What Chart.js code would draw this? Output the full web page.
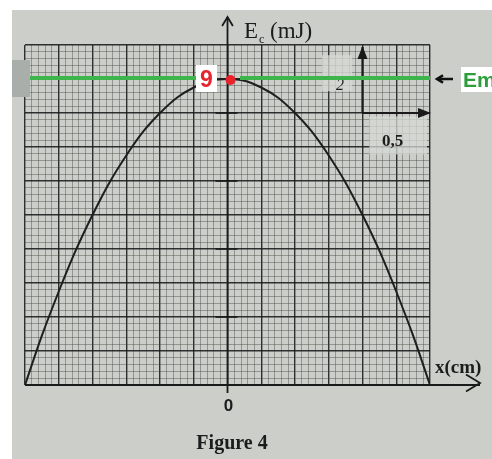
<!DOCTYPE html>
<html>
<head>
<meta charset="utf-8">
<script src="https://cdn.jsdelivr.net/npm/chart.js@4.4.0/dist/chart.umd.min.js"></script>
<style>
  html, body { margin: 0; padding: 0; background: #ffffff; }
  #wrap { width: 492px; height: 459px; }
</style>
</head>
<body>
<div id="wrap"><canvas id="chart" width="492" height="459"></canvas></div>
<script>
// valeurs : x (cm) et Ec (mJ)
const xValues = [-1.5, -1.375, -1.25, -1.125, -1, -0.875, -0.75, -0.625, -0.5, -0.375, -0.25, -0.125, 0,
                 0.125, 0.25, 0.375, 0.5, 0.625, 0.75, 0.875, 1, 1.125, 1.25, 1.375, 1.5];
const ecValues = [0, 1.45, 2.75, 3.95, 5, 5.95, 6.75, 7.45, 8, 8.45, 8.75, 8.95, 9,
                  8.95, 8.75, 8.45, 8, 7.45, 6.75, 5.95, 5, 3.95, 2.75, 1.45, 0];
const xTickLabels = ['0'];
const emValue = 9;          // valeur de Em lue (mJ)
const yMarks = [2, 4, 6, 8]; // petits traits sur l'axe Ec
const scaleY = '2';          // échelle : 2 mJ
const scaleX = '0,5';        // échelle : 0,5 cm

const points = xValues.map((x, i) => ({ x: x, y: ecValues[i] }));

function isMajor(v, step) {
    const r = v / step;
    return Math.abs(r - Math.round(r)) < 1e-6;
}

function arrowHead(c, x, y, dir, size) {
    // chevron ouvert
    c.beginPath();
    if (dir === 'up') {
        c.moveTo(x - size * 0.6, y + size);
        c.lineTo(x, y);
        c.lineTo(x + size * 0.6, y + size);
    } else if (dir === 'right') {
        c.moveTo(x - size, y - size * 0.6);
        c.lineTo(x, y);
        c.lineTo(x - size, y + size * 0.6);
    } else {
        c.moveTo(x + size, y - size * 0.6);
        c.lineTo(x, y);
        c.lineTo(x + size, y + size * 0.6);
    }
    c.stroke();
}

// fond (photo de la feuille)
const fondPlugin = {
    id: 'fond',
    beforeDraw(chart) {
        const c = chart.ctx;
        c.save();
        c.fillStyle = '#ffffff';
        c.fillRect(0, 0, chart.width, chart.height);
        c.fillStyle = '#cbcec9';
        c.fillRect(12, 10, chart.width - 12, chart.height - 10);
        c.restore();
    }
};

// axes, textes et annotations
const annotPlugin = {
    id: 'annot',
    afterDraw(chart) {
        const c = chart.ctx;
        const xs = chart.scales.x, ys = chart.scales.y;
        const area = chart.chartArea;
        const x0 = xs.getPixelForValue(0);
        c.save();

        // cases de l'échelle (fond plus clair)
        c.fillStyle = 'rgba(214,217,212,0.75)';
        c.fillRect(xs.getPixelForValue(1.05), ys.getPixelForValue(7.9), area.right - xs.getPixelForValue(1.05) - 3, 38);
        c.fillRect(xs.getPixelForValue(0.7), ys.getPixelForValue(9.7), 30, 36);

        // axe Ec
        c.strokeStyle = '#1a1a1a';
        c.lineWidth = 1.8;
        c.beginPath();
        c.moveTo(x0, area.bottom + 8);
        c.lineTo(x0, 17);
        c.stroke();
        arrowHead(c, x0, 17, 'up', 9);

        // axe x
        c.beginPath();
        c.moveTo(area.left, area.bottom);
        c.lineTo(480, area.bottom);
        c.stroke();
        arrowHead(c, 480, area.bottom - 2, 'right', 14);

        // petits traits sur l'axe
        c.lineWidth = 1.6;
        yMarks.forEach(v => {
            const y = ys.getPixelForValue(v);
            c.beginPath();
            c.moveTo(x0 - 12, y);
            c.lineTo(x0 + 10, y);
            c.stroke();
        });

        // flèches d'échelle
        const sx = xs.getPixelForValue(1), sy = ys.getPixelForValue(8);
        c.lineWidth = 2.2;
        c.beginPath();
        c.moveTo(sx, sy);
        c.lineTo(sx, ys.getPixelForValue(10) + 2);
        c.stroke();
        c.fillStyle = '#1a1a1a';
        c.beginPath();
        c.moveTo(sx, ys.getPixelForValue(10) + 1);
        c.lineTo(sx - 5, ys.getPixelForValue(10) + 14);
        c.lineTo(sx + 5, ys.getPixelForValue(10) + 14);
        c.fill();
        c.beginPath();
        c.moveTo(sx, sy);
        c.lineTo(area.right, sy);
        c.stroke();
        c.beginPath();
        c.moveTo(area.right + 1, sy);
        c.lineTo(area.right - 12, sy - 5);
        c.lineTo(area.right - 12, sy + 5);
        c.fill();

        // textes
        c.fillStyle = '#1c1c1c';
        c.textBaseline = 'alphabetic';
        c.font = '23px "Liberation Serif", serif';
        c.textAlign = 'left';
        c.fillText('E', 244, 38);
        c.font = '12px "Liberation Serif", serif';
        c.fillText('c', 259, 43);
        c.font = '23px "Liberation Serif", serif';
        c.fillText('(mJ)', 270, 38);

        c.font = 'bold 19px "Liberation Serif", serif';
        c.fillText('x(cm)', 435, 373);

        c.font = 'italic 16px "Liberation Serif", serif';
        c.fillText(scaleY, 336, 90);
        c.font = 'bold 17px "Liberation Serif", serif';
        c.fillText(scaleX, 382, 146);

        c.textAlign = 'center';
        c.font = 'bold 17px "Liberation Sans", sans-serif';
        xTickLabels.forEach(t => c.fillText(t, xs.getPixelForValue(Number(t)) + 1, 411));
        c.font = 'bold 20px "Liberation Serif", serif';
        c.fillText('Figure 4', 232, 449);

        // bande grise à gauche
        c.fillStyle = '#a9aeab';
        c.fillRect(12, 60, 18, 37);

        // ligne verte Em
        const yEm = ys.getPixelForValue(emValue) - 1;
        c.strokeStyle = '#3db54c';
        c.lineWidth = 4;
        c.beginPath();
        c.moveTo(30, yEm);
        c.lineTo(197, yEm);
        c.moveTo(240, yEm);
        c.lineTo(area.right, yEm);
        c.stroke();

        // case "9"
        c.fillStyle = '#ffffff';
        c.fillRect(196, 65, 21, 27);
        c.fillStyle = '#e8232b';
        c.font = 'bold 23px "Liberation Sans", sans-serif';
        c.textAlign = 'center';
        c.fillText(String(emValue), 206.5, 87);

        // point rouge
        c.beginPath();
        c.arc(x0 + 3, yEm + 2, 5, 0, Math.PI * 2);
        c.fill();

        // flèche et "Em"
        c.strokeStyle = '#111111';
        c.lineWidth = 2.5;
        c.beginPath();
        c.moveTo(453, yEm + 1);
        c.lineTo(437, yEm + 1);
        c.stroke();
        arrowHead(c, 437, yEm + 1, 'left', 6);
        c.fillStyle = '#ffffff';
        c.fillRect(461, 67, 31, 25);
        c.fillStyle = '#2e9e3c';
        c.font = 'bold 21px "Liberation Sans", sans-serif';
        c.textAlign = 'left';
        c.fillText('Em', 463, 87);

        c.restore();
    }
};

const chart = new Chart(document.getElementById('chart'), {
    type: 'scatter',
    data: {
        datasets: [{
            label: 'Ec',
            data: points,
            showLine: true,
            borderColor: '#1e1e1e',
            borderWidth: 2,
            pointRadius: 0,
            cubicInterpolationMode: 'monotone',
            fill: false
        }]
    },
    options: {
        responsive: false,
        animation: false,
        layout: { padding: { left: 25, top: 45, right: 62, bottom: 74 } },
        plugins: {
            legend: { display: false },
            tooltip: { enabled: false },
            title: { display: false }
        },
        scales: {
            x: {
                type: 'linear',
                min: -1.5,
                max: 1.5,
                border: { display: false },
                ticks: { display: false, stepSize: 0.05 },
                grid: {
                    drawTicks: false,
                    color: ctx => isMajor(ctx.tick.value, 0.25) ? 'rgba(25,25,25,0.88)' : 'rgba(60,63,60,0.4)',
                    lineWidth: ctx => isMajor(ctx.tick.value, 0.25) ? 1.4 : 1
                }
            },
            y: {
                min: 0,
                max: 10,
                border: { display: false },
                ticks: { display: false, stepSize: 0.2 },
                grid: {
                    drawTicks: false,
                    color: ctx => isMajor(ctx.tick.value, 1) ? 'rgba(25,25,25,0.88)' : 'rgba(60,63,60,0.4)',
                    lineWidth: ctx => isMajor(ctx.tick.value, 1) ? 1.4 : 1
                }
            }
        }
    },
    plugins: [fondPlugin, annotPlugin]
});
</script>
</body>
</html>
